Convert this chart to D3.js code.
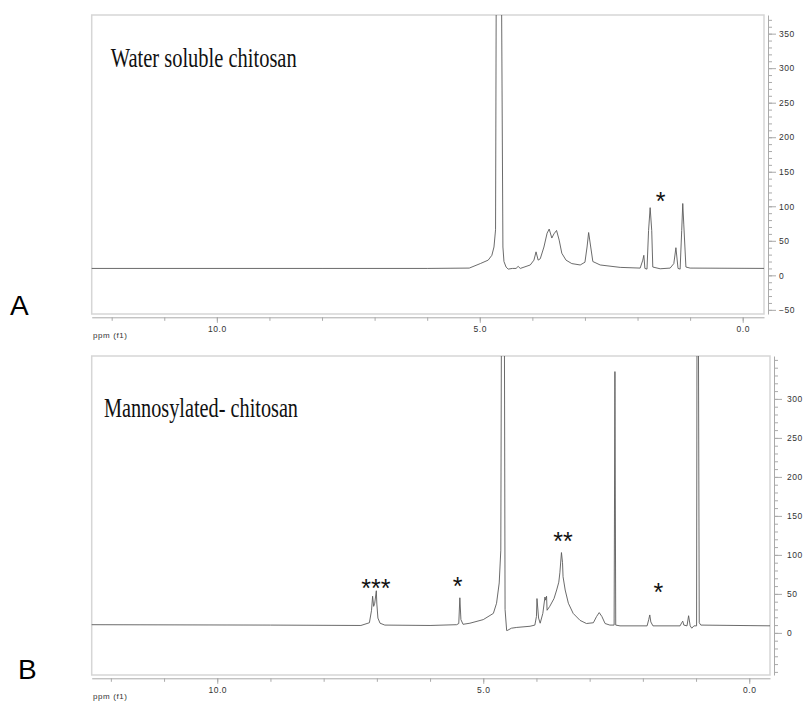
<!DOCTYPE html>
<html>
<head>
<meta charset="utf-8">
<script src="https://cdn.jsdelivr.net/npm/d3@7"></script>
<style>
  body { margin: 0; background: #fff; }
  svg { display: block; }
  .tick text { font-family: "Liberation Sans", Arial, sans-serif; font-size: 8.5px; fill: #333; letter-spacing: 0.5px; }
  .tick line, .domain { stroke: #aaa; }
</style>
</head>
<body>
<div id="chart"></div>
<script>
// spectrum A: water soluble chitosan (ppm, intensity)
var ppmA = [12.45, 8.0, 6.0, 5.20, 4.99, 4.84, 4.77, 4.73, 4.70, 4.68, 4.60, 4.56, 4.54, 4.50, 4.46,
    4.38, 4.31, 4.27, 4.23, 4.04, 3.97, 3.93, 3.89, 3.85, 3.78, 3.72, 3.68, 3.63, 3.59, 3.54, 3.49,
    3.44, 3.36, 3.25, 3.09, 3.00, 2.96, 2.93, 2.89, 2.85, 2.71, 2.33, 1.95, 1.90, 1.88, 1.86, 1.82,
    1.79, 1.76, 1.73, 1.71, 1.57, 1.38, 1.31, 1.27, 1.23, 1.19, 1.16, 1.14, 1.12, 1.08, 1.00, -0.45];
var intensityA = [10, 10, 10, 10.5, 17, 22, 29, 41, 66, 600, 600, 41, 20, 12, 9,
    10, 10, 13, 10, 15, 22, 34, 22, 24, 41, 61, 67, 54, 60, 65, 51,
    32, 22, 17, 15, 19, 41, 62, 41, 20, 15, 11.5, 10.5, 22, 29, 10, 9,
    65, 98, 65, 12, 9.5, 10.5, 17, 40, 10, 9, 65, 104, 73, 12, 10.5, 10];

// spectrum B: mannosylated chitosan
var ppmB = [12.45, 9.0, 7.3, 7.14, 7.10, 7.08, 7.06, 7.04, 7.01, 7.00, 6.98, 6.94, 6.85, 6.0, 5.50,
    5.46, 5.44, 5.42, 5.38, 5.25, 5.00, 4.81, 4.75, 4.70, 4.67, 4.65, 4.61, 4.59, 4.56, 4.55, 4.47,
    4.37, 4.12, 4.03, 4.00, 3.99, 3.96, 3.93, 3.88, 3.84, 3.83, 3.81, 3.80, 3.75, 3.67, 3.62, 3.58,
    3.56, 3.53, 3.51, 3.50, 3.46, 3.40, 3.31, 3.18, 3.06, 2.93, 2.87, 2.82, 2.77, 2.71, 2.62, 2.54,
    2.525, 2.51, 2.43, 1.92, 1.89, 1.87, 1.85, 1.81, 1.30, 1.27, 1.25, 1.23, 1.17, 1.14, 1.11, 1.08,
    1.04, 0.99, 0.98, 0.96, 0.94, 0.91, -0.45];
var intensityB = [10.5, 10, 9.5, 13, 29, 47, 34, 38, 54, 37, 19, 12.4, 10, 9.5, 10.5,
    12, 45, 17, 11, 12.4, 17, 25, 38, 64, 106, 600, 600, 30, 3, 3, 6,
    7, 8.5, 10, 21, 44, 19, 12.4, 25, 46, 42, 47, 29, 34, 44, 55, 65,
    77, 103, 90, 72, 55, 38, 25, 16, 12, 13, 21, 26, 21, 12, 10, 10,
    335, 10, 9, 9, 17, 23, 14, 9, 9, 13, 15, 10, 9, 22, 9, 6,
    9, 9, 500, 500, 13, 10, 9];

var titles = ["Water soluble chitosan", "Mannosylated- chitosan"];
var panelLetters = ["A", "B"];

// star marks: ppm position, intensity height, label
var starPpmA = [1.56];
var starValA = [115];
var starTextA = ["*"];
var starPpmB = [7.02, 5.48, 3.50, 1.71];
var starValB = [65, 67, 125, 60];
var starTextB = ["***", "*", "**", "*"];

var xMajorTicks = [0, 5, 10];
var xMinorTicks = d3.range(0, 13);
var yTicksA = d3.range(-50, 371, 10);
var yLabelsA = [-50, 0, 50, 100, 150, 200, 250, 300, 350];
var yTicksB = d3.range(-50, 351, 10);
var yLabelsB = [0, 50, 100, 150, 200, 250, 300];

var width = 806, height = 701;

var svg = d3.select("#chart")
    .append("svg")
    .attr("width", width)
    .attr("height", height);

var panels = [
    { left: 91.7, right: 764, top: 15, bottom: 314, xDomain: [12.38, -0.405], yDomain: [-56, 377],
      axisGap: 3.3, yAxisX: 768, yPad: 3, ppm: ppmA, val: intensityA, yTicks: yTicksA, yLabels: yLabelsA,
      starPpm: starPpmA, starVal: starValA, starText: starTextA,
      titleX: 110.7, titleY: 66.5, titleLen: 186, letterX: 10, letterY: 315 },
    { left: 91.7, right: 770, top: 356, bottom: 675, xDomain: [12.36, -0.39], yDomain: [-54, 355],
      axisGap: 3.3, yAxisX: 774, yPad: 5, ppm: ppmB, val: intensityB, yTicks: yTicksB, yLabels: yLabelsB,
      starPpm: starPpmB, starVal: starValB, starText: starTextB,
      titleX: 104, titleY: 417, titleLen: 194, letterX: 18, letterY: 679 }
];

panels.forEach(function (p, i) {
    var x = d3.scaleLinear().domain(p.xDomain).range([p.left, p.right]);
    var y = d3.scaleLinear().domain(p.yDomain).range([p.bottom, p.top]);

    // frame
    svg.append("rect")
        .attr("x", p.left).attr("y", p.top)
        .attr("width", p.right - p.left).attr("height", p.bottom - p.top)
        .attr("fill", "none")
        .attr("stroke", "#d6d6d6")
        .attr("stroke-width", 1.5);

    // clip for the trace
    svg.append("clipPath").attr("id", "clip" + i)
        .append("rect")
        .attr("x", p.left).attr("y", p.top)
        .attr("width", p.right - p.left).attr("height", p.bottom - p.top);

    var pts = p.ppm.map(function (d, k) { return [d, p.val[k]]; });
    var line = d3.line()
        .x(function (d) { return x(d[0]); })
        .y(function (d) { return y(d[1]); });

    svg.append("path")
        .datum(pts)
        .attr("clip-path", "url(#clip" + i + ")")
        .attr("fill", "none")
        .attr("stroke", "#5a5a5a")
        .attr("stroke-width", 0.9)
        .attr("stroke-linejoin", "round")
        .attr("d", line);

    // x axis, minor then major ticks
    var axisY = p.bottom + p.axisGap;
    svg.append("g")
        .attr("transform", "translate(0," + axisY + ")")
        .call(d3.axisBottom(x).tickValues(xMinorTicks).tickSize(3.5).tickSizeOuter(0).tickFormat(""));
    var gx = svg.append("g")
        .attr("transform", "translate(0," + axisY + ")")
        .call(d3.axisBottom(x).tickValues(xMajorTicks).tickSize(5.5).tickSizeOuter(0)
            .tickPadding(3.5).tickFormat(d3.format(".1f")));
    gx.select(".domain").remove();

    svg.append("text")
        .attr("x", 93)
        .attr("y", axisY + 20.5)
        .style("font-family", "Liberation Sans, Arial, sans-serif")
        .style("font-size", "8px")
        .style("letter-spacing", "0.6px")
        .style("fill", "#333")
        .text("ppm (f1)");

    // right y axis
    svg.append("g")
        .attr("transform", "translate(" + p.yAxisX + ",0)")
        .call(d3.axisRight(y).tickValues(p.yTicks).tickSize(4).tickSizeOuter(0).tickFormat(""));
    var gy = svg.append("g")
        .attr("transform", "translate(" + p.yAxisX + ",0)")
        .call(d3.axisRight(y).tickValues(p.yLabels)
            .tickSize(8).tickSizeOuter(0).tickPadding(p.yPad).tickFormat(d3.format("d")));
    gy.select(".domain").remove();

    // title
    svg.append("text")
        .attr("x", p.titleX)
        .attr("y", p.titleY)
        .attr("textLength", p.titleLen)
        .attr("lengthAdjust", "spacingAndGlyphs")
        .style("font-family", "Liberation Serif, Times New Roman, serif")
        .style("font-size", "27px")
        .style("fill", "#111")
        .text(titles[i]);

    // panel letter
    svg.append("text")
        .attr("x", p.letterX)
        .attr("y", p.letterY)
        .style("font-family", "Liberation Sans, Arial, sans-serif")
        .style("font-size", "28px")
        .style("fill", "#000")
        .text(panelLetters[i]);

    // stars
    svg.selectAll(".star" + i)
        .data(p.starPpm)
        .enter().append("text")
        .attr("class", "star" + i)
        .attr("x", function (d) { return x(d); })
        .attr("y", function (d, k) { return y(p.starVal[k]); })
        .attr("dy", "0.58em")
        .attr("text-anchor", "middle")
        .style("font-family", "Liberation Sans, Arial, sans-serif")
        .style("font-size", "25px")
        .style("fill", "#111")
        .text(function (d, k) { return p.starText[k]; });
});
</script>
</body>
</html>
